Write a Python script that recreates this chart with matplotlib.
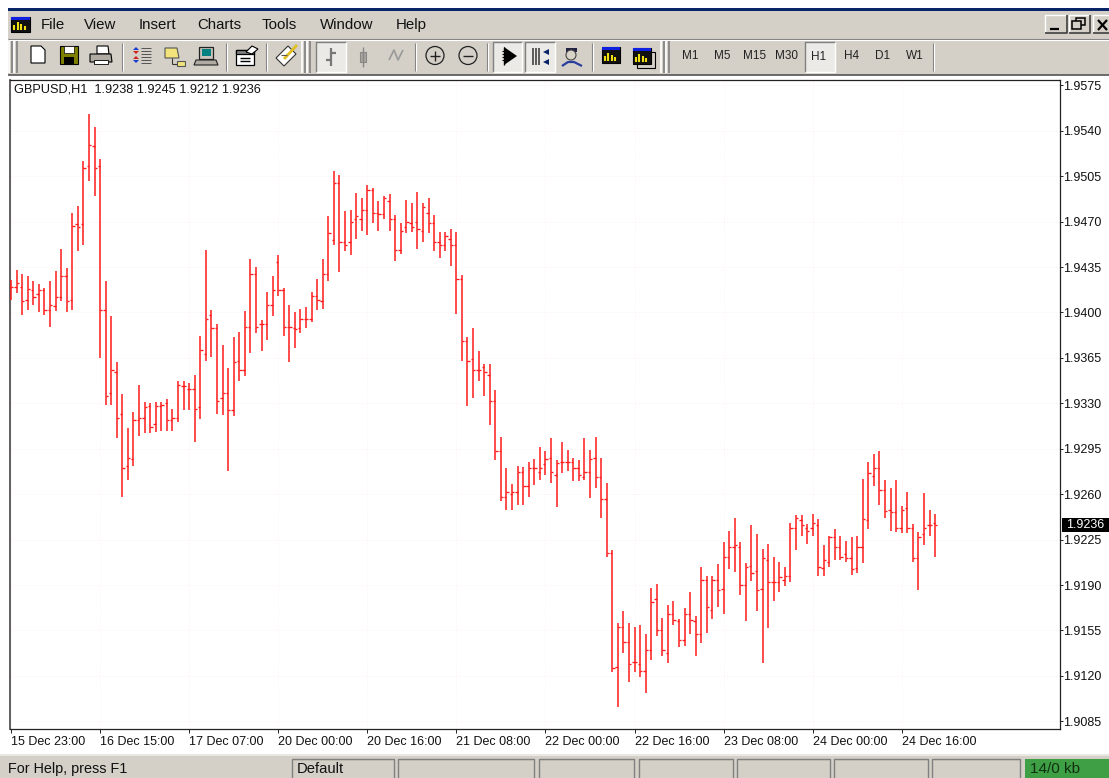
#importing libraries
import matplotlib
matplotlib.use('Agg')
import matplotlib.pyplot as plt
from matplotlib.patches import Rectangle, Polygon, Circle
import numpy as np

#prices as points above 1.9000, one entry per H1 bar
high_pts = [425,433,430,428,424,422,419,424,432,449,
            434,477,482,517,553,543,518,424,397,362,
            337,311,323,344,331,330,331,331,333,326,
            347,347,346,352,382,448,402,391,375,357,
            381,385,401,441,435,394,416,428,444,419,
            406,400,403,404,416,426,441,474,509,506,
            478,479,492,488,498,496,486,490,491,475,
            469,487,484,493,484,488,475,462,462,464,
            462,429,381,388,370,360,360,340,304,280,
            268,282,281,285,287,296,293,303,286,300,
            294,288,286,303,294,304,288,269,217,161,
            170,161,158,159,152,188,191,165,175,178,
            164,172,185,166,204,197,197,206,223,232,
            242,223,207,236,229,218,222,212,208,204,
            238,244,244,237,245,241,221,228,233,228,
            224,227,228,272,285,291,293,271,265,271,
            251,262,237,231,261,248,245]
low_pts = [410,415,398,402,406,400,398,389,401,409,
           400,402,447,452,501,490,365,329,329,303,
           258,271,282,305,307,307,308,309,309,309,
           316,325,325,300,318,363,366,322,321,278,
           320,347,351,369,384,370,379,397,413,382,
           362,373,384,388,393,402,403,424,452,431,
           447,444,457,463,460,469,463,472,463,440,
           445,461,462,449,454,461,447,442,447,436,
           399,363,328,334,347,336,313,286,255,248,
           248,252,252,258,267,271,275,269,250,276,
           278,270,270,271,257,265,242,212,123,96,
           138,115,123,119,107,132,151,135,130,159,
           142,143,152,135,145,153,164,173,168,202,
           200,182,162,193,170,130,157,178,185,189,
           192,217,228,222,228,197,197,204,209,209,
           208,198,199,207,233,266,252,242,232,231,
           230,230,208,186,221,228,212]
open_pts = [420,420,420,410,417,414,417,402,405,412,
            428,410,468,468,513,528,513,402,338,354,
            322,282,287,317,319,328,314,328,330,317,
            319,343,341,341,327,368,398,388,334,338,
            325,363,356,389,430,391,391,406,439,417,
            389,388,388,395,395,413,409,430,456,500,
            454,454,472,472,479,494,477,476,486,472,
            448,466,469,470,463,477,469,454,452,457,
            452,426,378,364,356,358,352,332,293,258,
            260,262,277,266,280,277,283,288,275,285,
            285,285,280,273,277,288,273,256,215,127,
            158,146,131,129,124,140,179,155,138,168,
            162,148,168,162,152,194,171,194,187,212,
            219,219,190,205,201,187,209,192,192,194,
            197,234,240,234,234,236,203,208,227,219,
            214,211,203,219,240,274,280,263,248,246,
            234,249,234,211,229,236,238]
close_pts = [420,423,409,418,412,417,402,406,412,428,
             409,467,466,511,529,511,402,336,356,319,
             280,288,317,319,327,312,328,329,317,319,
             344,343,341,326,371,395,388,332,338,325,
             362,356,389,430,389,391,406,417,417,389,
             389,387,395,395,413,410,430,461,500,454,
             452,470,474,479,494,477,476,488,472,448,
             463,470,466,464,481,469,454,452,459,452,
             426,378,363,356,356,354,332,293,258,262,
             262,277,266,280,280,280,287,277,284,285,
             285,280,275,277,287,273,256,215,126,158,
             146,129,131,124,140,177,155,140,168,163,
             148,168,163,152,194,173,194,186,212,219,
             221,190,204,199,186,211,192,192,196,197,
             234,242,236,232,238,204,209,227,219,212,
             211,202,219,241,276,280,263,247,246,234,
             248,234,211,227,234,236,236]

time_labels = ['15 Dec 23:00', '16 Dec 15:00', '17 Dec 07:00', '20 Dec 00:00',
               '20 Dec 16:00', '21 Dec 08:00', '22 Dec 00:00', '22 Dec 16:00',
               '23 Dec 08:00', '24 Dec 00:00', '24 Dec 16:00']
bars_per_label = 16
price_ticks = [1.9575, 1.9540, 1.9505, 1.9470, 1.9435, 1.9400, 1.9365, 1.9330,
               1.9295, 1.9260, 1.9225, 1.9190, 1.9155, 1.9120, 1.9085]
last_price = 1.9236
chart_title = 'GBPUSD,H1  1.9238 1.9245 1.9212 1.9236'
menu_items = [('File', 41), ('View', 84), ('Insert', 139), ('Charts', 197),
              ('Tools', 262), ('Window', 320), ('Help', 396)]
period_items = [('M1', 690), ('M5', 722), ('M15', 755), ('M30', 787),
                ('H1', 819), ('H4', 852), ('D1', 883), ('W1', 915)]

W, H = 1109, 778
GRAY = '#d4d0c8'
DARK = '#808080'
FONT = 'Liberation Sans'
LABEL_SIZE = 9.0

fig = plt.figure(figsize=(W/100, H/100), dpi=100, facecolor='white')

#window chrome, drawn in pixel coordinates
ui = fig.add_axes([0, 0, 1, 1])
ui.set_xlim(0, W)
ui.set_ylim(H, 0)
ui.axis('off')


def box(x0, y0, x1, y1, fc='none', ec='none', lw=1, z=2):
    ui.add_patch(Rectangle((x0, y0), x1-x0, y1-y0, facecolor=fc, edgecolor=ec, lw=lw, zorder=z))


def line(xs, ys, c='black', lw=1, z=3):
    ui.plot(xs, ys, color=c, lw=lw, zorder=z, solid_capstyle='butt')


def poly(pts, fc='none', ec='black', lw=0.8, z=3):
    ui.add_patch(Polygon(pts, closed=True, facecolor=fc, edgecolor=ec, lw=lw, zorder=z))


def sep(x, y0=43, y1=71):
    line([x, x], [y0, y1], DARK, 0.8)
    line([x+1, x+1], [y0, y1], 'white', 0.8)


def grip(x):
    for dx in (0, 5):
        line([x+dx, x+dx], [41, 73], 'white', 1.2)
        line([x+dx+2.5, x+dx+2.5], [41, 73], DARK, 1.2)


def pressed(x0, x1, y0=42, y1=72):
    box(x0, y0, x1, y1, fc='#eceae6')
    line([x0, x0, x1], [y1, y0, y0], DARK, 1)
    line([x0, x1, x1], [y1, y1, y0], 'white', 1)


def chart_icon(x0, y0, x1, y1):
    box(x0, y0, x1, y1, fc='#111111', ec='black', lw=0.8)
    box(x0, y0, x1, y0+3, fc='#1020e0')
    for k, h in enumerate([5, 8, 6, 4]):
        dx = x0+3+k*(x1-x0-5)/4
        line([dx, dx], [y1-2-h, y1-2], '#f0e010', 1.5, z=4)


box(0, 0, W, 8, fc='white')
box(8, 8, W, 11, fc='#0a246a')
box(8, 11, W, 75, fc=GRAY)
line([8, W], [38.5, 38.5], DARK, 0.8)
line([8, W], [39.5, 39.5], 'white', 0.8)
line([8, W], [74.5, 74.5], '#555555', 1.2)

#menu bar
chart_icon(11, 17, 30, 32)
for name, x in menu_items:
    ui.text(x, 25, name, fontsize=10.8, family=FONT, va='center', color='#111111', zorder=4)

#caption buttons
for x0, x1 in [(1045, 1067), (1069, 1090), (1093, 1112)]:
    box(x0, 15, x1, 33, fc=GRAY)
    line([x0, x0, x1], [33, 15, 15], 'white', 1)
    line([x0, x1, x1], [33, 33, 15], '#404040', 1.2)
line([1050, 1059], [29, 29], 'black', 1.6)
box(1076, 18, 1085, 25, ec='black', lw=1.1)
box(1072, 21, 1081, 29, fc=GRAY, ec='black', lw=1.1)
line([1098, 1107], [20, 30], 'black', 1.6)
line([1107, 1098], [20, 30], 'black', 1.6)

#toolbar, left group
grip(9)
poly([(31, 46), (41, 46), (45, 50), (45, 63), (31, 63)], fc='white')
poly([(60, 46), (78, 46), (78, 64), (60, 64)], fc='#808000')
box(64, 46, 74, 53, fc='white', ec='black', lw=0.5, z=4)
box(64, 57, 74, 64, fc='black', z=4)
poly([(97, 46), (108, 46), (109, 54), (97, 54)], fc='white')
poly([(90, 54), (111, 54), (112, 62), (90, 62)], fc='#b0aca4')
box(94, 60, 108, 64, fc='white', ec='black', lw=0.6, z=4)
sep(122)
for k in range(2):
    yy = 50+k*9
    poly([(133, yy), (136, yy-3), (139, yy)], fc='#1a3bd0' if k == 0 else '#d02020', ec='none')
    poly([(133, yy+1), (136, yy+4), (139, yy+1)], fc='#d02020' if k == 0 else '#1a3bd0', ec='none')
    for r in range(3):
        line([141, 151], [yy-2+r*3, yy-2+r*3], '#555555', 0.7)
poly([(165, 48), (177, 48), (179, 58), (165, 58)], fc='#f2e37a', ec='#555555')
line([172, 172], [58, 64], '#333333', 0.8)
line([172, 178], [64, 64], '#333333', 0.8)
poly([(177, 61), (185, 61), (185, 66), (177, 66)], fc='#f2e37a', ec='#555555')
box(199, 47, 213, 59, fc='#c8c4bc', ec='#222222', lw=0.9)
box(202, 49, 211, 56, fc='#008080', z=4)
poly([(196, 60), (216, 60), (218, 65), (194, 65)], fc='#b0aca4', ec='#222222')
sep(226)
box(236, 50, 254, 65, fc='white', ec='black', lw=0.9)
box(236, 50, 254, 54, fc='#808080', ec='black', lw=0.9)
line([240, 250], [58, 58], 'black', 1)
line([240, 250], [61, 61], 'black', 1)
poly([(246, 52), (252, 46), (258, 49), (252, 54)], fc='white')
sep(266)
poly([(276, 58), (288, 46), (296, 54), (284, 66)], fc='white', ec='#333333')
line([284, 297], [59, 45], '#e0c020', 2, z=4)
line([281, 287], [55, 55], '#555555', 0.8, z=4)
grip(302)

#chart mode buttons
pressed(316, 346)
line([331, 331], [48, 66], '#777777', 1.6)
line([326, 331], [60, 60], '#777777', 1.6)
line([331, 336], [53, 53], '#777777', 1.6)
line([363, 363], [47, 67], '#888888', 1)
box(360, 52, 366, 62, fc='#a8a49c', ec='#888888', lw=0.8)
line([389, 394, 398, 403], [60, 50, 60, 50], '#999999', 1.2)
sep(415)

#zoom buttons
for cx, sign in [(435, 1), (468, 0)]:
    ui.add_patch(Circle((cx, 55.5), 9, facecolor='none', edgecolor='#222222', lw=0.9, zorder=3))
    line([cx-5, cx+5], [55.5, 55.5], '#222222', 1)
    if sign:
        line([cx, cx], [50.5, 60.5], '#222222', 1)
sep(487)

#autoscroll, shift, expert
pressed(493, 522)
poly([(504, 47), (517, 56), (504, 65)], fc='black', ec='none')
line([504, 504], [47, 65], 'black', 1)
for yy in (51, 54, 57, 60):
    line([502, 506], [yy, yy], 'black', 0.8)
pressed(525, 555)
for xx in (533, 536, 539):
    line([xx, xx], [48, 65], '#333333', 1.1)
poly([(543, 52), (549, 49), (549, 55)], fc='#0a246a', ec='none')
poly([(543, 62), (549, 59), (549, 65)], fc='#0a246a', ec='none')
ui.add_patch(Circle((571, 55), 5, facecolor='#d8d4c8', edgecolor='#444444', lw=0.8, zorder=3))
box(566, 48, 577, 52, fc='#222244')
line([562, 568, 574, 582], [66, 62, 62, 66], '#2a3ea0', 1.6)
sep(592)
chart_icon(602, 47, 620, 63)
box(637, 52, 655, 68, fc=GRAY, ec='black', lw=0.8)
chart_icon(633, 48, 651, 64)
grip(661)

#period buttons
pressed(805, 835)
for name, x in period_items:
    ui.text(x, 57 if name == 'H1' else 55.5, name, fontsize=8.5, family=FONT,
            ha='center', va='center', color='#222222', zorder=4)
sep(933)

#status bar
box(0, 754, W, H, fc=GRAY)
line([0, W], [754.5, 754.5], '#efeee9', 1.2)
for x0, x1 in [(292, 394), (398, 534), (539, 634), (639, 733), (737, 830), (834, 928), (932, 1020)]:
    line([x0, x0, x1, x1], [H, 759, 759, H], DARK, 1)
    line([x0+1, x1-1], [760, 760], '#bbb8b0', 0.5)
ui.text(8, 769, 'For Help, press F1', fontsize=10.4, family=FONT, va='center', color='#111111')
ui.text(297, 769, 'Default', fontsize=10.6, family=FONT, va='center', color='#111111')
box(1025, 759, W, H, fc='#3f9f45')
ui.text(1030, 769, '14/0 kb', fontsize=11, family=FONT, va='center', color='#103010', zorder=4)
box(1062, 518, W, 532, fc='black')

#price chart, x is the bar number
x_left, x_right, y_top, y_bot = 10, 1059.5, 79.5, 729
ax = fig.add_axes([x_left/W, 1-y_bot/H, (x_right-x_left)/W, (y_bot-y_top)/H])
x0_px, bar_px = 11, 5.567
ax.set_xlim((x_left-x0_px)/bar_px, (x_right-x0_px)/bar_px)
ax.set_ylim(1.90791, 1.95795)
ax.set_facecolor('white')

pts = [np.array(a)/10000+1.9 for a in (open_pts, high_pts, low_pts, close_pts)]
opens, highs, lows, closes = pts
xs = np.arange(len(opens))
ax.vlines(xs, lows, highs, color='#ff1a1a', lw=1.1, zorder=3)
ax.hlines(opens, xs-0.42, xs, color='#ff1a1a', lw=0.95, zorder=3)
ax.hlines(closes, xs, xs+0.42, color='#ff1a1a', lw=0.95, zorder=3)

ax.set_yticks(price_ticks)
ax.yaxis.tick_right()
ax.set_yticklabels(['%.4f' % p for p in price_ticks], fontsize=LABEL_SIZE, family=FONT, color='#111111')
ax.set_xticks(np.arange(len(time_labels))*bars_per_label)
ax.set_xticklabels(time_labels, fontsize=LABEL_SIZE, family=FONT, color='#111111', ha='left')
ax.tick_params(axis='y', length=2.5, width=0.7, pad=0, color='#222222')
ax.tick_params(axis='x', length=3, width=0.7, pad=2, color='#222222')
ax.grid(True, color='#fdf1f1', lw=0.7, ls=':')
ax.set_axisbelow(True)
for s in ax.spines.values():
    s.set_color('#222222')
    s.set_linewidth(0.9)
ax.spines['left'].set_color('#444444')
ax.spines['left'].set_linewidth(1.2)
ax.text(14, 89, chart_title, transform=ui.transData, fontsize=LABEL_SIZE+0.2, family=FONT,
        va='center', color='#111111', zorder=5)

#last price tag on the price scale
ax.annotate('%.4f' % last_price, xy=(1, last_price), xycoords=('axes fraction', 'data'),
            xytext=(5, 0), textcoords='offset points', fontsize=LABEL_SIZE, family=FONT,
            color='white', va='center', ha='left', annotation_clip=False)

fig.savefig('out.png', dpi=100, facecolor='white')
